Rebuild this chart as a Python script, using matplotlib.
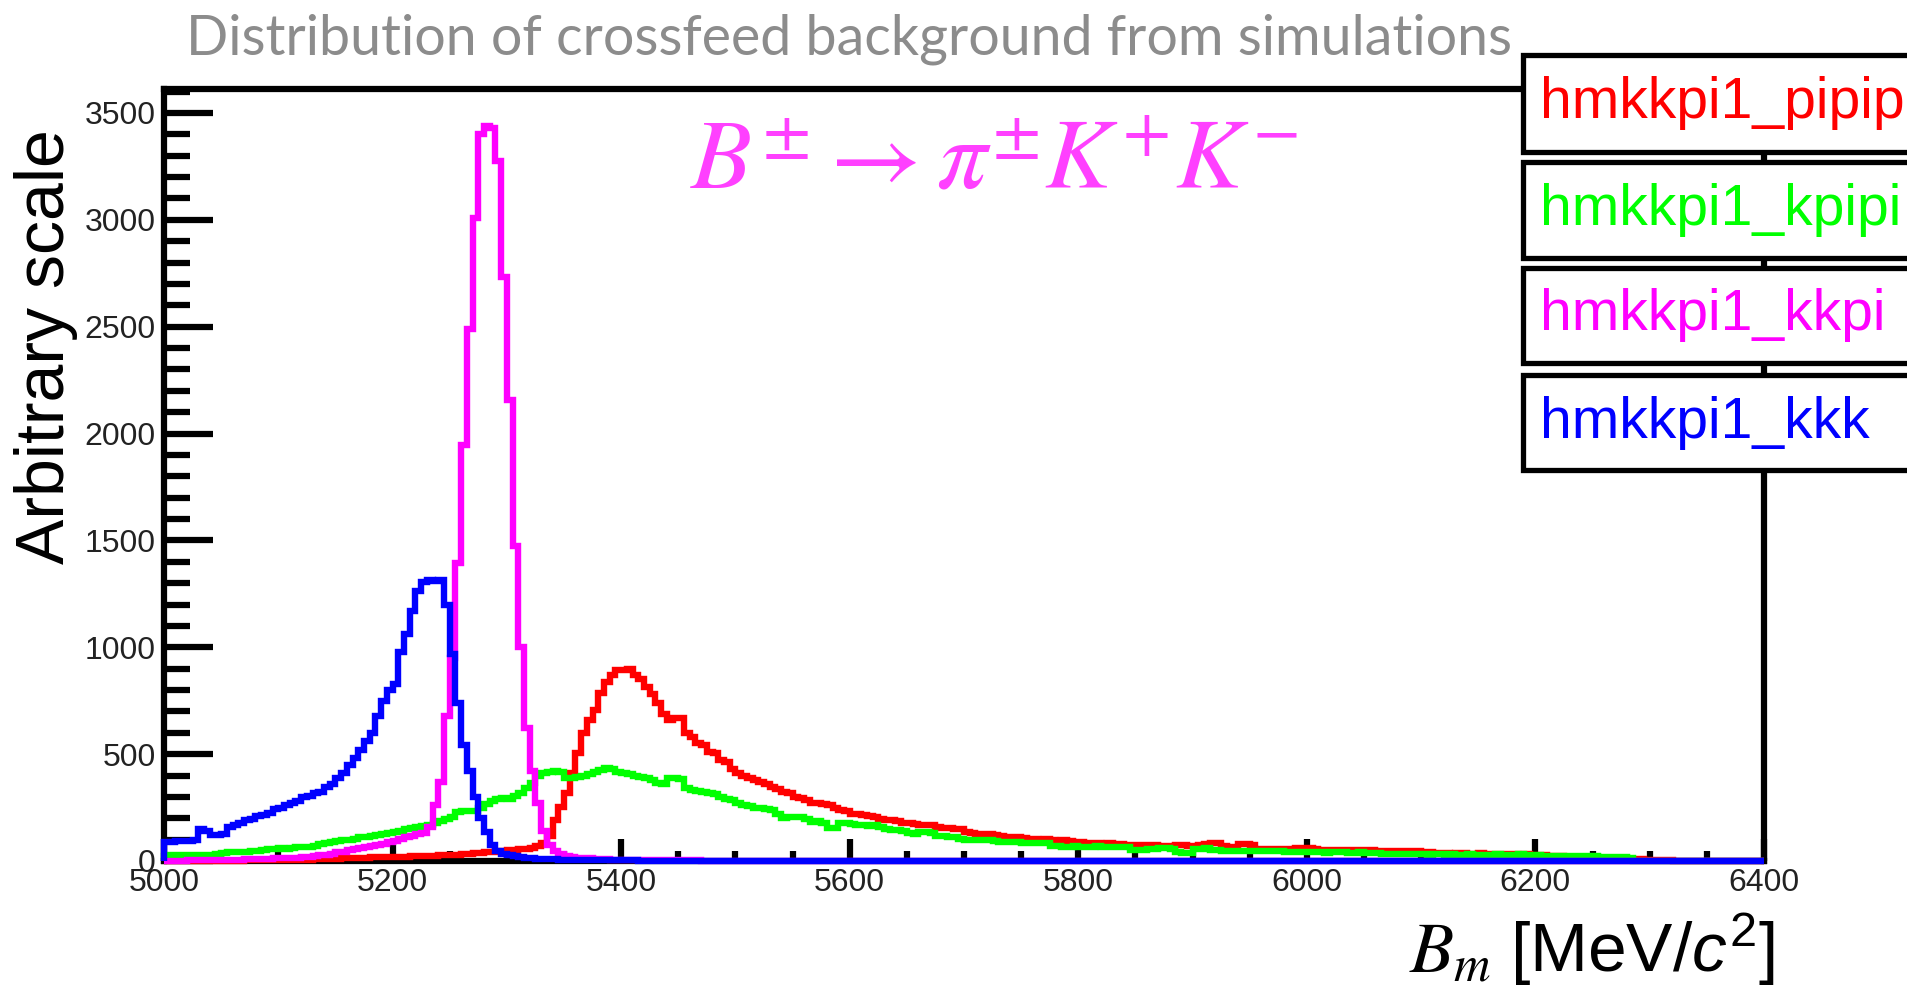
import numpy as np
import matplotlib
matplotlib.use("Agg")
import matplotlib.pyplot as plt
from matplotlib.ticker import MultipleLocator
from matplotlib.patches import Rectangle

# 5 MeV bins from 5000 to 6400
bin_edges = np.arange(5000, 6405, 5)

pipipi = [
    0, 0, 0, 0, 0, 1, 1, 1, 1, 1, 2, 2, 2, 2, 3, 3, 3, 4, 4, 4,
    5, 5, 6, 6, 7, 7, 8, 8, 9, 10, 11, 12, 13, 14, 15, 16, 17, 18, 19, 20,
    20, 20, 21, 22, 22, 23, 24, 25, 26, 28, 29, 30, 32, 34, 36, 38, 40, 42, 45, 48,
    50, 52, 54, 56, 60, 68, 83, 117, 192, 253, 317, 410, 504, 597, 660, 707, 785, 839, 870, 894,
    895, 900, 870, 850, 816, 780, 738, 690, 660, 668, 668, 597, 580, 551, 545, 512, 505, 472, 465, 430,
    410, 400, 390, 379, 370, 360, 348, 338, 325, 317, 300, 295, 285, 270, 272, 268, 262, 250, 239, 235,
    220, 218, 215, 210, 205, 195, 192, 190, 185, 180, 176, 175, 170, 168, 168, 160, 155, 153, 150, 148,
    135, 130, 128, 126, 125, 120, 116, 114, 112, 110, 108, 104, 102, 100, 101, 98, 95, 96, 92, 90,
    88, 85, 83, 82, 80, 84, 80, 78, 77, 76, 75, 74, 73, 75, 70, 68, 72, 75, 76, 70,
    70, 74, 80, 83, 82, 68, 66, 65, 78, 80, 77, 58, 56, 57, 55, 57, 56, 58, 60, 61,
    60, 58, 52, 53, 51, 52, 50, 52, 53, 52, 51, 52, 49, 48, 47, 48, 46, 48, 47, 45,
    44, 40, 38, 37, 36, 35, 37, 36, 35, 34, 36, 35, 33, 34, 32, 31, 31, 30, 31, 30,
    28, 26, 25, 24, 22, 21, 20, 19, 18, 17, 16, 15, 14, 13, 12, 11, 10, 9, 8, 6,
    5, 4, 3, 3, 2, 2, 1, 1, 1, 1, 0, 0, 0, 0, 0, 0, 0, 0, 0, 0,
]

kpipi = [
    25, 26, 27, 28, 28, 29, 30, 30, 30, 32, 38, 40, 42, 44, 44, 46, 48, 50, 55, 58,
    60, 58, 62, 64, 66, 64, 70, 78, 85, 90, 95, 98, 100, 105, 110, 114, 115, 120, 125, 129,
    135, 140, 150, 155, 160, 165, 170, 178, 188, 195, 205, 227, 232, 235, 235, 250, 266, 280, 290, 297,
    290, 305, 317, 340, 364, 400, 410, 418, 420, 415, 387, 390, 395, 398, 405, 418, 425, 434, 430, 415,
    410, 405, 400, 395, 390, 380, 364, 360, 387, 390, 385, 340, 331, 328, 325, 317, 312, 300, 290, 285,
    270, 262, 258, 250, 247, 245, 240, 220, 200, 205, 207, 205, 195, 184, 186, 180, 153, 155, 176, 176,
    172, 170, 168, 166, 168, 160, 150, 145, 143, 140, 130, 128, 137, 135, 132, 118, 115, 114, 112, 105,
    100, 98, 97, 99, 96, 92, 90, 91, 89, 90, 85, 84, 83, 82, 83, 70, 68, 67, 66, 68,
    67, 66, 65, 68, 67, 66, 65, 67, 66, 52, 50, 51, 56, 58, 59, 60, 58, 40, 36, 38,
    55, 58, 59, 52, 50, 48, 47, 49, 48, 46, 48, 47, 46, 48, 47, 45, 44, 42, 43, 41,
    40, 41, 40, 39, 40, 41, 40, 39, 38, 40, 38, 37, 36, 35, 34, 33, 33, 32, 33, 31,
    31, 30, 31, 32, 30, 31, 30, 29, 31, 30, 30, 29, 30, 31, 30, 29, 30, 31, 30, 29,
    26, 25, 24, 25, 23, 24, 22, 23, 22, 21, 22, 20, 21, 20, 19, 20, 15, 0, 0, 0,
    0, 0, 0, 0, 0, 0, 0, 0, 0, 0, 0, 0, 0, 0, 0, 0, 0, 0, 0, 0,
]

kkpi = [
    1, 1, 2, 2, 3, 3, 4, 4, 5, 5, 6, 6, 7, 7, 8, 8, 9, 10, 11, 12,
    13, 14, 15, 16, 18, 20, 22, 26, 30, 35, 40, 44, 50, 55, 60, 65, 70, 75, 80, 88,
    95, 102, 110, 118, 127, 132, 160, 260, 370, 680, 950, 1395, 1948, 2490, 3008, 3400, 3440, 3430, 3273, 2731,
    2155, 1475, 1000, 620, 420, 270, 140, 75, 45, 35, 25, 20, 16, 14, 12, 10, 9, 8, 7, 6,
    6, 5, 5, 5, 4, 4, 4, 4, 3, 3, 3, 3, 3, 3, 2, 2, 2, 2, 2, 2,
    2, 2, 2, 2, 2, 1, 1, 1, 1, 1, 1, 1, 1, 1, 1, 1, 1, 1, 1, 1,
    1, 1, 1, 1, 1, 1, 1, 1, 1, 1, 1, 1, 1, 1, 1, 1, 1, 1, 1, 1,
    1, 1, 1, 1, 1, 1, 1, 1, 1, 1, 1, 1, 1, 1, 1, 1, 0, 0, 0, 0,
    0, 0, 0, 0, 0, 0, 0, 0, 0, 0, 0, 0, 0, 0, 0, 0, 0, 0, 0, 0,
    0, 0, 0, 0, 0, 0, 0, 0, 0, 0, 0, 0, 0, 0, 0, 0, 0, 0, 0, 0,
    0, 0, 0, 0, 0, 0, 0, 0, 0, 0, 0, 0, 0, 0, 0, 0, 0, 0, 0, 0,
    0, 0, 0, 0, 0, 0, 0, 0, 0, 0, 0, 0, 0, 0, 0, 0, 0, 0, 0, 0,
    0, 0, 0, 0, 0, 0, 0, 0, 0, 0, 0, 0, 0, 0, 0, 0, 0, 0, 0, 0,
    0, 0, 0, 0, 0, 0, 0, 0, 0, 0, 0, 0, 0, 0, 0, 0, 0, 0, 0, 0,
]

kkk = [
    90, 90, 92, 95, 95, 98, 150, 140, 122, 120, 125, 160, 170, 180, 190, 195, 210, 215, 225, 245,
    250, 260, 270, 280, 300, 305, 318, 325, 345, 360, 390, 410, 450, 480, 520, 560, 600, 680, 750, 800,
    830, 980, 1060, 1170, 1265, 1305, 1315, 1310, 1315, 1200, 970, 740, 545, 420, 300, 200, 135, 75, 45, 35,
    30, 24, 20, 16, 13, 11, 10, 9, 8, 7, 6, 6, 5, 5, 4, 4, 4, 3, 3, 3,
    3, 3, 3, 2, 2, 2, 2, 2, 2, 2, 2, 2, 1, 1, 1, 1, 1, 1, 1, 1,
    1, 1, 1, 1, 1, 1, 1, 1, 1, 1, 1, 1, 1, 1, 1, 1, 1, 1, 1, 1,
    0, 0, 0, 0, 0, 0, 0, 0, 0, 0, 0, 0, 0, 0, 0, 0, 0, 0, 0, 0,
    0, 0, 0, 0, 0, 0, 0, 0, 0, 0, 0, 0, 0, 0, 0, 0, 0, 0, 0, 0,
    0, 0, 0, 0, 0, 0, 0, 0, 0, 0, 0, 0, 0, 0, 0, 0, 0, 0, 0, 0,
    0, 0, 0, 0, 0, 0, 0, 0, 0, 0, 0, 0, 0, 0, 0, 0, 0, 0, 0, 0,
    0, 0, 0, 0, 0, 0, 0, 0, 0, 0, 0, 0, 0, 0, 0, 0, 0, 0, 0, 0,
    0, 0, 0, 0, 0, 0, 0, 0, 0, 0, 0, 0, 0, 0, 0, 0, 0, 0, 0, 0,
    0, 0, 0, 0, 0, 0, 0, 0, 0, 0, 0, 0, 0, 0, 0, 0, 0, 0, 0, 0,
    0, 0, 0, 0, 0, 0, 0, 0, 0, 0, 0, 0, 0, 0, 0, 0, 0, 0, 0, 0,
]

names = ["hmkkpi1_pipipi", "hmkkpi1_kpipi", "hmkkpi1_kkpi", "hmkkpi1_kkk"]
colors = ["#ff0000", "#00ff00", "#ff00ff", "#0000ff"]

plt.rcParams['font.family'] = ['Liberation Sans', 'DejaVu Sans']
plt.rcParams['mathtext.fontset'] = 'stix'
# sans italic maths for the unit
plt.rcParams['mathtext.rm'] = 'Liberation Sans'
plt.rcParams['mathtext.it'] = 'Liberation Sans:italic'

W, H = 1908, 991
fig = plt.figure(figsize=(W / 100, H / 100), dpi=100)
ax = fig.add_axes([164 / W, 1 - 861 / H, 1600 / W, 772 / H])

for vals, c in zip([pipipi, kpipi, kkpi, kkk], colors):
    ax.stairs(vals, bin_edges, color=c, lw=4.6, zorder=3, clip_on=False)

ax.set_xlim(5000, 6400)
ax.set_ylim(0, 3612)
ax.xaxis.set_major_locator(MultipleLocator(200))
ax.xaxis.set_minor_locator(MultipleLocator(50))
ax.yaxis.set_major_locator(MultipleLocator(500))
ax.yaxis.set_minor_locator(MultipleLocator(100))

# ROOT style ticks: inside, left/bottom only
ax.tick_params(which='both', direction='in', top=False, right=False,
               width=4.5, color='black', labelcolor='#222222')
ax.tick_params(axis='y', which='major', length=35, pad=6, labelsize=23)
ax.tick_params(axis='y', which='minor', length=19)
ax.tick_params(axis='x', which='major', length=16, pad=5, labelsize=23)
ax.tick_params(axis='x', which='minor', length=7)
for s in ax.spines.values():
    s.set_linewidth(4.5)

# legend boxes, one per histogram, running off the right edge
box_tops = [55, 162, 268, 375]
box_bottoms = [152, 258, 363, 470]
for name, c, t, b in zip(names, colors, box_tops, box_bottoms):
    fig.add_artist(Rectangle((1523 / W, 1 - b / H), (1960 - 1523) / W, (b - t) / H,
                             transform=fig.transFigure, facecolor='white',
                             edgecolor='black', lw=3.8, zorder=5))
    fig.text(1540 / W, 1 - (t + b) / 2 / H, name, color=c, fontsize=41,
             ha='left', va='center', zorder=6)

fig.text(186 / W, 1 - 39 / H, "Distribution of crossfeed background from simulations",
         fontsize=40, color='#8c8c8c', family='Lato', ha='left', va='center')

fig.text(46 / W, 1 - 347 / H, "Arbitrary scale", rotation=90, fontsize=49,
         ha='center', va='center')

fig.text(690 / W, 1 - 189 / H, r'$B^{\pm}\rightarrow\pi^{\pm}K^{+}K^{-}$',
         fontsize=72, color='#ff40ff', ha='left', va='baseline')

fig.text(1409 / W, 1 - 972 / H, r'$B_m$', fontsize=52, ha='left', va='baseline')
fig.text(1774 / W, 1 - 972 / H, r'[MeV/$c^2$]', fontsize=50, ha='right',
         va='baseline', math_fontfamily='custom')

fig.savefig("out.png", dpi=100)
